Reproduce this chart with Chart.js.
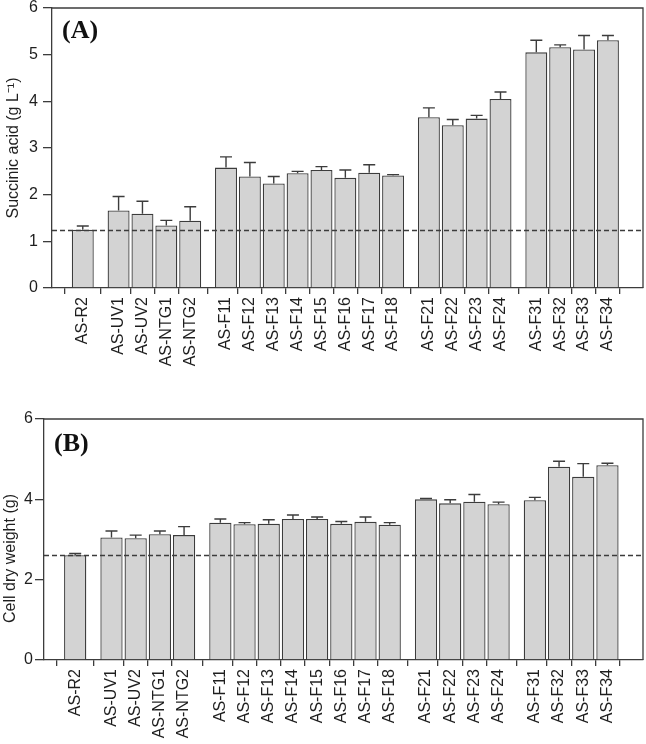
<!DOCTYPE html>
<html>
<head>
<meta charset="utf-8">
<script src="https://cdn.jsdelivr.net/npm/chart.js@4.4.1/dist/chart.umd.min.js"></script>
<style>
  body { margin: 0; background: #fff; }
  #wrap { position: relative; width: 646px; height: 744px; }
  canvas { position: absolute; left: 0; }
  #chartA { top: 0; }
  #chartB { top: 395px; }
</style>
</head>
<body>
<div id="wrap">
  <canvas id="chartA" width="646" height="392"></canvas>
  <canvas id="chartB" width="646" height="349"></canvas>
</div>
<script>
// strains, in the order they appear, and how they are grouped on the x axis
const strains = [
  'AS-R2',
  'AS-UV1', 'AS-UV2', 'AS-NTG1', 'AS-NTG2',
  'AS-F11', 'AS-F12', 'AS-F13', 'AS-F14', 'AS-F15', 'AS-F16', 'AS-F17', 'AS-F18',
  'AS-F21', 'AS-F22', 'AS-F23', 'AS-F24',
  'AS-F31', 'AS-F32', 'AS-F33', 'AS-F34',
];
const groupSizes = [1, 4, 8, 4, 4];

// (A) succinic acid, g/L
const succinic = [1.25, 1.66, 1.59, 1.34, 1.44, 2.58, 2.39, 2.24, 2.46, 2.53, 2.36, 2.47, 2.41,
  3.66, 3.49, 3.63, 4.05, 5.05, 5.16, 5.11, 5.31];
const succinicErr = [0.08, 0.30, 0.27, 0.11, 0.30, 0.23, 0.30, 0.15, 0.04, 0.07, 0.17, 0.17, 0.02,
  0.20, 0.12, 0.07, 0.15, 0.26, 0.05, 0.30, 0.10];

// (B) cell dry weight, g
const cdw = [2.61, 3.05, 3.03, 3.13, 3.11, 3.42, 3.38, 3.39, 3.51, 3.51, 3.39, 3.44, 3.37,
  4.00, 3.90, 3.94, 3.88, 3.98, 4.81, 4.56, 4.85];
const cdwErr = [0.04, 0.16, 0.08, 0.08, 0.21, 0.09, 0.04, 0.10, 0.10, 0.05, 0.06, 0.12, 0.05,
  0.02, 0.09, 0.18, 0.05, 0.07, 0.14, 0.33, 0.05];

const yTicksA = [0, 1, 2, 3, 4, 5, 6];
const yTicksB = [0, 2, 4, 6];

// half a slot of space between groups
const positions = [];
let slot = 0;
groupSizes.forEach((n, g) => {
  for (let i = 0; i < n; i++) {
    positions.push(slot + g * 0.5);
    slot++;
  }
});

const FONT = 'Arial, "Liberation Sans", sans-serif';
const INK = '#1e1e1e';
const LINE = '#3c3c3c';

const errorBars = {
  id: 'errorBars',
  afterDatasetsDraw(chart, args, opts) {
    const { ctx, scales: { x, y }, chartArea } = chart;
    ctx.save();
    ctx.strokeStyle = LINE;
    ctx.lineWidth = 1.4;
    opts.values.forEach((v, i) => {
      const px = x.getPixelForValue(positions[i]);
      const y0 = y.getPixelForValue(v);
      const y1 = y.getPixelForValue(v + opts.errors[i]);
      ctx.beginPath();
      ctx.moveTo(px, y0);
      ctx.lineTo(px, y1);
      ctx.moveTo(px - 6, y1);
      ctx.lineTo(px + 6, y1);
      ctx.stroke();
    });
    // control level (AS-R2) as dashed reference
    const yc = Math.round(y.getPixelForValue(opts.values[0])) + 0.5;
    ctx.setLineDash([5, 3]);
    ctx.lineWidth = 1.3;
    ctx.beginPath();
    ctx.moveTo(chartArea.left, yc);
    ctx.lineTo(chartArea.right, yc);
    ctx.stroke();
    ctx.setLineDash([]);
    // frame
    ctx.lineWidth = 1.3;
    ctx.beginPath();
    ctx.moveTo(chartArea.left, chartArea.top);
    ctx.lineTo(chartArea.right, chartArea.top);
    ctx.lineTo(chartArea.right, chartArea.bottom);
    ctx.stroke();
    // panel tag
    ctx.fillStyle = '#111';
    ctx.font = 'bold 26px "Times New Roman", "Liberation Serif", serif';
    ctx.textBaseline = 'top';
    ctx.fillText(opts.tag, chartArea.left + 10, chartArea.top + opts.tagDy);
    // y axis title
    ctx.fillStyle = INK;
    ctx.font = '16px ' + FONT;
    ctx.textAlign = 'center';
    ctx.textBaseline = 'alphabetic';
    ctx.translate(opts.titleX, (chartArea.top + chartArea.bottom) / 2 + opts.titleDy);
    ctx.rotate(-Math.PI / 2);
    ctx.fillText(opts.title, 0, 0);
    ctx.restore();
  },
};

function makePanel(id, cfg) {
  return new Chart(document.getElementById(id), {
    type: 'bar',
    data: {
      datasets: [{
        data: cfg.values.map((v, i) => ({ x: positions[i], y: v })),
        backgroundColor: '#d3d3d3',
        borderColor: LINE,
        borderWidth: 1.3,
        barPercentage: 0.92,
        categoryPercentage: 1,
      }],
    },
    options: {
      responsive: false,
      animation: false,
      layout: { padding: { top: cfg.top, right: 3, left: 0, bottom: 0 } },
      plugins: {
        legend: { display: false },
        tooltip: { enabled: false },
        errorBars: {
          values: cfg.values,
          errors: cfg.errors,
          tag: cfg.tag,
          tagDy: cfg.tagDy,
          title: cfg.yTitle,
          titleX: cfg.titleX,
          titleDy: cfg.titleDy,
        },
      },
      scales: {
        x: {
          type: 'linear',
          min: -0.7,
          max: 22.88,
          afterBuildTicks: (s) => { s.ticks = positions.map((v) => ({ value: v })); },
          afterFit: (s) => { s.height = cfg.xHeight; s.paddingLeft = 0; s.paddingRight = 0; },
          ticks: {
            autoSkip: false,
            minRotation: 90,
            maxRotation: 90,
            padding: 3,
            color: INK,
            font: { family: FONT, size: 16 },
            callback: (v, i) => strains[i],
          },
          grid: { drawOnChartArea: false, tickLength: 6, color: LINE, lineWidth: 1.3 },
          border: { color: LINE, width: 1.3 },
        },
        y: {
          min: 0,
          max: 6,
          afterBuildTicks: (s) => { s.ticks = cfg.yTicks.map((v) => ({ value: v })); },
          afterFit: (s) => { s.width = cfg.yWidth; s.paddingTop = 0; s.paddingBottom = 0; },
          ticks: {
            padding: cfg.yPad,
            color: INK,
            font: { family: FONT, size: 16 },
          },
          grid: { drawOnChartArea: false, tickLength: 9, color: LINE, lineWidth: 1.3 },
          border: { color: LINE, width: 1.3 },
        },
      },
    },
    plugins: [errorBars],
  });
}

makePanel('chartA', {
  values: succinic,
  errors: succinicErr,
  yTicks: yTicksA,
  yTitle: 'Succinic acid (g L\u207B\u00B9)',
  titleX: 18,
  titleDy: 0,
  tag: '(A)',
  tagDy: 10,
  top: 8,
  xHeight: 104,
  yWidth: 52,
  yPad: 5,
});

makePanel('chartB', {
  values: cdw,
  errors: cdwErr,
  yTicks: yTicksB,
  yTitle: 'Cell dry weight (g)',
  titleX: 15,
  titleDy: 19,
  tag: '(B)',
  tagDy: 12,
  top: 24,
  xHeight: 84,
  yWidth: 44,
  yPad: 2,
});
</script>
</body>
</html>
